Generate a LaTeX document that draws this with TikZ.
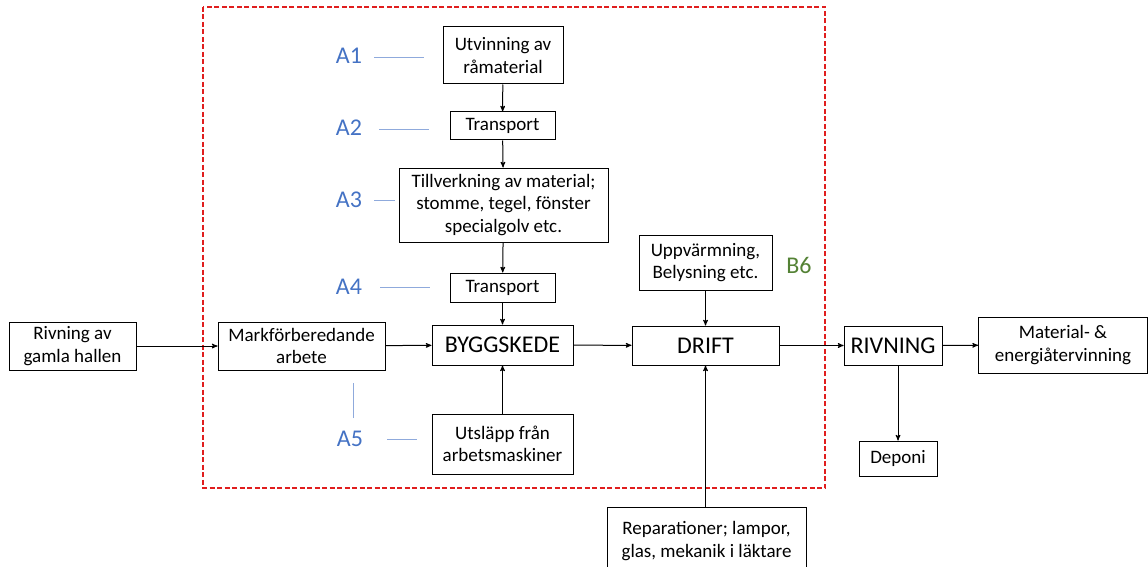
\documentclass[tikz,border=0pt]{standalone}
\usepackage{fontspec}
\setmainfont{Carlito}
\usetikzlibrary{arrows}
\definecolor{phaseblue}{RGB}{68,114,196}
\definecolor{tickblue}{RGB}{143,170,220}
\definecolor{phasegreen}{RGB}{84,130,53}
\definecolor{boundred}{RGB}{224,30,30}

\begin{document}
\begin{tikzpicture}[x=1pt,y=-1pt,->,>=stealth',line width=1pt,
box/.style={rectangle,draw,align=center,inner sep=0pt,font=\fontsize{19}{22.5}\selectfont},
big box/.style={box,font=\fontsize{24}{26}\selectfont},
phase/.style={text=phaseblue,font=\fontsize{24}{26}\selectfont},
tick/.style={-,draw=tickblue,line width=0.7pt}]

\useasboundingbox (0,0) rectangle (1148,567);

% system boundary
\draw[-,boundred,line width=1.6pt,dash pattern=on 5pt off 2.5pt] (203,7) rectangle (825,488);

% A-stages
\node[box,minimum width=120,minimum height=57] (utv) at (503,55.5) {Utvinning av\\råmaterial};
\node[box,minimum width=105,minimum height=28] (tr1) at (502.5,126) {Transport};
\node[box,minimum width=209,minimum height=74] (till) at (503.5,205) {Tillverkning av material;\\stomme, tegel, fönster\\specialgolv etc.};
\node[box,minimum width=105,minimum height=29] (tr2) at (502.5,287.5) {Transport};
\node[big box,minimum width=141,minimum height=40] (bygg) at (502.5,345) {BYGGSKEDE};
\node[box,minimum width=167,minimum height=48] (mark) at (301.5,346) {Markförberedande\\arbete};
\node[box,minimum width=141,minimum height=60] (utsl) at (502.5,444) {Utsläpp från\\arbetsmaskiner};
\node[box,minimum width=127,minimum height=48] (gaml) at (72.5,346) {Rivning av\\gamla hallen};

% B-stages and end of life
\node[box,minimum width=133,minimum height=55] (uppv) at (705.5,262.5) {Uppvärmning,\\Belysning etc.};
\node[big box,minimum width=147,minimum height=39] (drift) at (705.5,345.5) {DRIFT};
\node[box,minimum width=199,minimum height=68] (rep) at (706.5,541) {Reparationer; lampor,\\glas, mekanik i läktare};
\node[big box,minimum width=98,minimum height=39] (rivn) at (893,345.5) {RIVNING};
\node[box,minimum width=169,minimum height=56] (matr) at (1063,345) {Material- \&\\energiåtervinning};
\node[box,minimum width=78,minimum height=35] (depo) at (898,458.5) {Deponi};

% labels
\node[phase] (a1) at (349,56) {A1};
\node[phase] (a2) at (349,128) {A2};
\node[phase] (a3) at (349,200) {A3};
\node[phase] (a4) at (349,287) {A4};
\node[phase] (a5) at (350,439) {A5};
\node[phase,text=phasegreen] (b6) at (799,265) {B6};

\draw[tick] (374,57) -- (424,57);
\draw[tick] (379,129) -- (429,129);
\draw[tick] (374,200) -- (395,200);
\draw[tick] (380,287) -- (430,287);
\draw[tick] (387,439) -- (417,439);
\draw[tick] (353,418) -- (353,383);

% flows
\draw (utv) -- (tr1);
\draw (tr1) -- (till);
\draw (till) -- (tr2);
\draw (tr2) -- (bygg);
\draw (utsl) -- (bygg);
\draw (gaml) -- (mark);
\draw (mark) -- (bygg);
\draw (bygg) -- (drift);
\draw (uppv) -- (drift);
\draw (rep.north -| drift) -- (drift);
\draw (drift) -- (rivn);
\draw (rivn) -- (matr);
\draw (depo |- rivn.south) -- (depo);

\end{tikzpicture}
\end{document}
